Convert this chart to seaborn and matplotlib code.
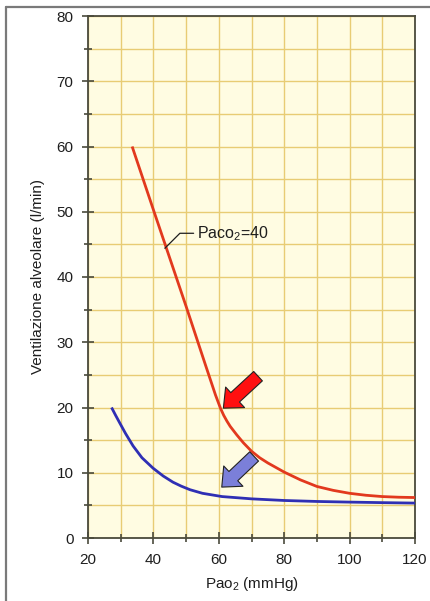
"""Ventilazione alveolare vs PaO2 - risposta ventilatoria all'ipossia."""

import pandas as pd
import matplotlib
matplotlib.use("Agg")
import matplotlib.pyplot as plt
from matplotlib.lines import Line2D
from matplotlib.ticker import MultipleLocator
import seaborn as sns

# ---------------------------------------------------------------------------
# Data
# ---------------------------------------------------------------------------
red_x = [33.5, 40, 50, 56, 59, 60.5, 61.5, 62.5, 63.5, 65.5, 67.5, 70, 72.5, 75, 77.5,
         80, 85, 90, 95, 100, 105, 110, 115, 120]
red_y = [60.0, 50.3, 35.5, 26.4, 21.9, 19.9, 18.8, 17.9, 17.1, 15.8, 14.6, 13.3, 12.3, 11.5, 10.8,
         10.1, 8.9, 7.9, 7.3, 6.85, 6.55, 6.35, 6.25, 6.2]

blue_x = [27.2, 28.5, 29.8, 31.5, 33.8, 36.5, 39.9, 43, 46, 48.5, 51.2, 55, 61,
          70, 80, 90, 100, 110, 120]
blue_y = [20.0, 18.75, 17.55, 16.0, 14.1, 12.3, 10.7, 9.5, 8.55, 7.95, 7.4, 6.85, 6.35,
          6.0, 5.75, 5.6, 5.5, 5.42, 5.35]

x_ticks = [20, 40, 60, 80, 100, 120]
y_ticks = [0, 10, 20, 30, 40, 50, 60, 70, 80]

curve_label = "Paco$_2$=40"
x_label = "Pao$_2$ (mmHg)"
y_label = "Ventilazione alveolare (l/min)"

# ---------------------------------------------------------------------------
# Style
# ---------------------------------------------------------------------------
sns.set_theme(style="ticks")
plt.rcParams["font.family"] = ["Liberation Sans", "DejaVu Sans"]
plt.rcParams["mathtext.default"] = "regular"

BG = "#FFFCE2"
GRID = "#E8CC74"
SPINE = "#4A4A3C"
TEXT = "#1E1E1E"
RED = "#E2391E"
BLUE = "#2F2FB4"

fig = plt.figure(figsize=(4.30, 6.01), dpi=100)
ax = fig.add_axes([88 / 430, 1 - 538 / 601, (415 - 88) / 430, (538 - 16) / 601])
ax.set_facecolor(BG)

df_red = pd.DataFrame({"x": red_x, "y": red_y})
df_blue = pd.DataFrame({"x": blue_x, "y": blue_y})
for df, col in [(df_red, RED), (df_blue, BLUE)]:
    sns.lineplot(data=df, x="x", y="y", color=col, lw=2.0, estimator=None, sort=False,
                 ax=ax, zorder=3, solid_joinstyle="round", solid_capstyle="butt")

ax.set_xlim(20, 120)
ax.set_ylim(0, 80)
ax.set_xticks(x_ticks)
ax.set_yticks(y_ticks)
ax.xaxis.set_minor_locator(MultipleLocator(10))
ax.yaxis.set_minor_locator(MultipleLocator(5))
ax.grid(True, which="both", color=GRID, lw=1.0, zorder=0)
ax.set_axisbelow(True)

for s in ax.spines.values():
    s.set_color(SPINE)
    s.set_linewidth(1.3)
ax.tick_params(which="both", direction="inout", color=SPINE, width=1.2)
ax.tick_params(which="major", length=8, labelsize=11, pad=6.5, labelcolor=TEXT)
ax.tick_params(which="minor", length=6)

ax.set_xlabel(x_label, fontsize=11, color=TEXT, labelpad=6)
ax.set_ylabel(y_label, fontsize=11, color=TEXT, labelpad=8)

# curve label with leader line
ax.plot([43.5, 48.1, 52.3], [44.4, 46.7, 46.7], color=TEXT, lw=0.9, zorder=4)
ax.text(53.2, 46.7, curve_label, fontsize=11.5, color=TEXT, va="center", ha="left")

# block arrows
for tail, tip, fc in [((72.0, 24.8), (61.4, 19.9), "#FF1010"),
                      ((70.8, 12.5), (60.9, 7.8), "#7B7FD9")]:
    ax.annotate("", xy=tip, xytext=tail,
                arrowprops=dict(arrowstyle="simple,head_length=1.0,head_width=1.75,tail_width=0.8",
                                fc=fc, ec="#222222", lw=0.8, mutation_scale=11.5,
                                shrinkA=0, shrinkB=0),
                zorder=5)

# outer frame of the screenshot
fig.add_artist(Line2D([6 / 430, 6 / 430], [0, 1 - 7 / 601], transform=fig.transFigure,
                      color="#7A7A7A", lw=1.6))
fig.add_artist(Line2D([6 / 430, 1], [1 - 7 / 601, 1 - 7 / 601], transform=fig.transFigure,
                      color="#7A7A7A", lw=1.6))

fig.savefig("out.png", dpi=100, facecolor="white")
